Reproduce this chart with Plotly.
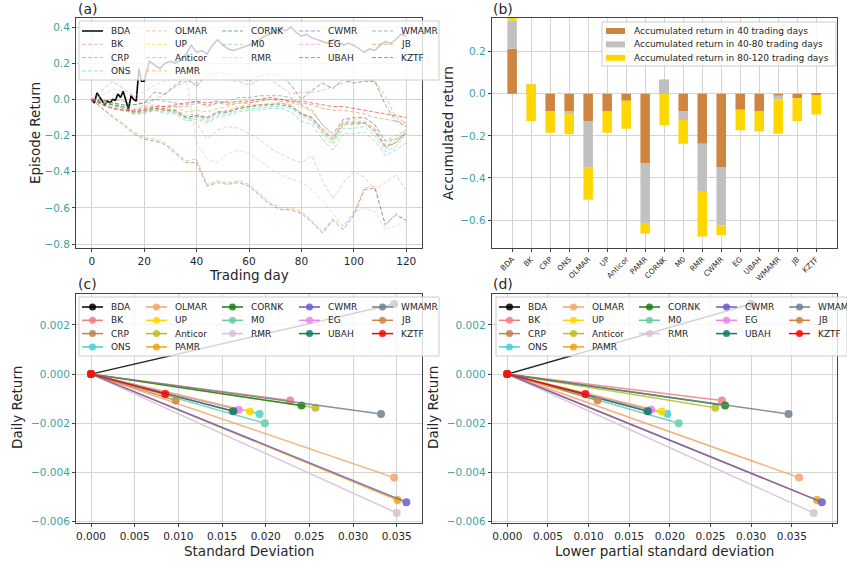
import plotly.graph_objects as go

W, H = 847, 563
FONT = "DejaVu Sans"

# ---------------- data ----------------
NAMES = ["BDA", "BK", "CRP", "ONS", "OLMAR", "UP", "Anticor", "PAMR", "CORNK",
         "M0", "RMR", "CWMR", "EG", "UBAH", "WMAMR", "JB", "KZTF"]
COLORS = ["#000000", "#F08080", "#C0804F", "#48D1CC", "#F4A46A", "#FFD700",
          "#BCBD22", "#F0A30A", "#1A801A", "#66CDAA", "#D8BFD8", "#6A5ACD",
          "#EE82EE", "#0E7C6B", "#708090", "#CD853F", "#FF0000"]

# (a) episode return
BDA_DAYS = list(range(0, 21)) + list(range(22, 121, 2))
RET_BDA = [0, -0.02, 0.035, 0.015, -0.01, -0.03, -0.01, -0.02, 0.0, -0.005, 0.03,
           0.01, 0.045, -0.01, -0.055, 0.02, 0.0, -0.01, 0.17, 0.10, 0.10,
           0.21, 0.19, 0.17, 0.20, 0.21, 0.20, 0.22, 0.25, 0.30, 0.26,
           0.27, 0.25, 0.30, 0.33, 0.30, 0.28, 0.27, 0.28, 0.29, 0.30,
           0.31, 0.33, 0.35, 0.36, 0.38, 0.39, 0.38, 0.40, 0.37, 0.35,
           0.36, 0.34, 0.33, 0.32, 0.31, 0.33, 0.32, 0.30, 0.31, 0.30,
           0.28, 0.26, 0.28, 0.27, 0.30, 0.32, 0.31, 0.33, 0.36, 0.35]
DAYS = list(range(0, 121, 4))
RET_BK = [0.0, 0.05, 0.10, 0.06, 0.02, -0.04, 0.00, 0.03, 0.07, 0.10, 0.09, 0.12, 0.14, 0.11, 0.10, 0.08,
          0.11, 0.11, 0.07, 0.03, 0.04, 0.04, 0.05, 0.07, 0.09, 0.11, 0.11, 0.10, 0.02, -0.10, -0.13]
RET_CRP = [0.0, -0.02, -0.03, -0.05, -0.07, -0.07, -0.05, -0.06, -0.07, -0.10, -0.09, -0.11, -0.08, -0.07, -0.05, -0.04,
           -0.04, -0.03, -0.02, -0.04, -0.08, -0.11, -0.18, -0.23, -0.14, -0.14, -0.13, -0.18, -0.27, -0.24, -0.19]
RET_ONS = [0.0, -0.01, -0.03, -0.05, -0.08, -0.07, -0.06, -0.07, -0.07, -0.11, -0.10, -0.12, -0.09, -0.08, -0.06, -0.05,
           -0.05, -0.04, -0.04, -0.05, -0.09, -0.12, -0.19, -0.25, -0.16, -0.16, -0.15, -0.20, -0.29, -0.26, -0.19]
RET_OLMAR = [0.0, -0.02, -0.05, -0.06, -0.08, -0.07, -0.06, -0.05, -0.08, -0.10, -0.13, -0.22, -0.17, -0.15, -0.16, -0.19,
             -0.22, -0.27, -0.30, -0.33, -0.35, -0.31, -0.45, -0.55, -0.46, -0.40, -0.43, -0.50, -0.46, -0.42, -0.50]
RET_UP = [0.0, -0.02, -0.02, -0.04, -0.07, -0.06, -0.05, -0.06, -0.06, -0.10, -0.09, -0.10, -0.07, -0.07, -0.04, -0.04,
          -0.03, -0.03, -0.02, -0.03, -0.08, -0.10, -0.17, -0.24, -0.14, -0.13, -0.13, -0.18, -0.26, -0.23, -0.18]
RET_ANTICOR = [0.0, -0.01, -0.02, -0.03, -0.05, -0.04, -0.03, -0.04, -0.04, -0.07, -0.06, -0.07, -0.05, -0.04, -0.02, -0.02,
               -0.01, 0.00, 0.00, -0.01, -0.04, -0.07, -0.14, -0.20, -0.11, -0.11, -0.10, -0.14, -0.23, -0.20, -0.17]
RET_PAMR = [0.0, -0.05, -0.09, -0.13, -0.18, -0.21, -0.22, -0.24, -0.29, -0.34, -0.33, -0.47, -0.45, -0.46, -0.45, -0.47,
            -0.52, -0.57, -0.60, -0.60, -0.62, -0.67, -0.73, -0.66, -0.70, -0.63, -0.49, -0.48, -0.70, -0.63, -0.67]
RET_CORNK = [0.0, 0.00, -0.02, -0.03, -0.03, -0.02, 0.04, 0.03, 0.08, 0.12, 0.07, 0.14, 0.15, 0.14, 0.12, 0.10,
             0.13, 0.14, 0.13, 0.08, 0.00, 0.05, 0.09, 0.06, 0.11, 0.09, 0.10, 0.10, -0.03, -0.12, -0.15]
RET_M0 = [0.0, -0.02, -0.04, -0.05, -0.08, -0.08, -0.06, -0.08, -0.08, -0.12, -0.11, -0.13, -0.10, -0.09, -0.07, -0.06,
          -0.06, -0.05, -0.05, -0.07, -0.12, -0.14, -0.22, -0.28, -0.19, -0.19, -0.18, -0.23, -0.31, -0.28, -0.24]
RET_RMR = [0.0, 0.02, 0.06, 0.04, 0.02, 0.04, 0.08, 0.10, 0.12, 0.13, -0.24, -0.33, -0.35, -0.30, -0.28, -0.30,
           -0.34, -0.38, -0.42, -0.44, -0.46, -0.50, -0.56, -0.63, -0.70, -0.62, -0.60, -0.62, -0.72, -0.70, -0.68]
RET_CWMR = [0.0, -0.05, -0.10, -0.14, -0.19, -0.22, -0.23, -0.25, -0.30, -0.35, -0.35, -0.48, -0.46, -0.47, -0.46, -0.48,
            -0.53, -0.58, -0.61, -0.61, -0.63, -0.68, -0.74, -0.67, -0.72, -0.64, -0.50, -0.49, -0.69, -0.64, -0.67]
RET_EG = [0.0, -0.02, -0.03, -0.04, -0.06, -0.06, -0.04, -0.05, -0.06, -0.09, -0.08, -0.10, -0.07, -0.06, -0.04, -0.03,
          -0.03, -0.02, -0.02, -0.03, -0.08, -0.10, -0.16, -0.21, -0.12, -0.12, -0.12, -0.16, -0.25, -0.22, -0.17]
RET_UBAH = [0.0, -0.02, -0.03, -0.04, -0.07, -0.06, -0.05, -0.06, -0.06, -0.10, -0.09, -0.10, -0.07, -0.07, -0.05, -0.04,
            -0.03, -0.03, -0.03, -0.04, -0.08, -0.10, -0.17, -0.22, -0.13, -0.13, -0.13, -0.17, -0.26, -0.24, -0.18]
RET_WMAMR = [0.0, -0.01, 0.00, -0.01, -0.03, -0.02, 0.00, -0.01, -0.02, -0.03, -0.01, -0.04, -0.02, -0.01, 0.01, 0.01,
             0.02, 0.02, 0.02, 0.01, -0.03, -0.06, -0.14, -0.19, -0.11, -0.10, -0.10, -0.14, -0.23, -0.22, -0.19]
RET_JB = [0.0, -0.03, -0.05, -0.06, -0.07, -0.06, -0.05, -0.05, -0.04, -0.04, -0.02, -0.03, -0.02, -0.03, -0.02, -0.02,
          -0.01, 0.00, -0.01, -0.02, -0.02, -0.03, -0.05, -0.06, -0.06, -0.07, -0.08, -0.10, -0.11, -0.12, -0.13]
RET_KZTF = [0.0, -0.03, -0.05, -0.06, -0.06, -0.05, -0.04, -0.04, -0.03, -0.02, -0.01, -0.02, -0.01, -0.02, -0.01, -0.01,
            0.00, 0.01, 0.00, -0.01, -0.01, -0.02, -0.03, -0.04, -0.04, -0.05, -0.06, -0.07, -0.08, -0.09, -0.10]

# (b) accumulated return at day 40 / 80 / 120
R40 = [0.214, 0.02, -0.082, -0.082, -0.130, -0.082, -0.033, -0.331, 0.066,
       -0.084, -0.238, -0.348, -0.076, -0.082, -0.010, -0.021, -0.008]
R80 = [0.348, 0.045, -0.082, -0.092, -0.352, -0.082, -0.033, -0.618, 0.000,
       -0.125, -0.462, -0.626, -0.076, -0.082, -0.027, -0.021, -0.008]
R120 = [0.390, -0.130, -0.185, -0.193, -0.504, -0.185, -0.166, -0.665, -0.150,
        -0.238, -0.678, -0.673, -0.173, -0.179, -0.190, -0.130, -0.098]
BAR_LABELS = ["Accumulated return in 40 trading days",
              "Accumulated return in 40-80 trading days",
              "Accumulated return in 80-120 trading days"]
BAR_COLORS = ["#CD853F", "#C0C0C0", "#FFD700"]

# (c)/(d) risk vs return
STD = [0.0347, 0.0228, 0.0162, 0.0193, 0.0347, 0.0182, 0.0257, 0.0351, 0.0241,
       0.0199, 0.0350, 0.0361, 0.0169, 0.0163, 0.0332, 0.0097, 0.0085]
LPSD = [0.0300, 0.0264, 0.0172, 0.0197, 0.0359, 0.0190, 0.0256, 0.0381, 0.0268,
        0.0211, 0.0377, 0.0387, 0.0177, 0.0173, 0.0346, 0.0111, 0.0096]
DAILY = [0.00285, -0.00107, -0.00150, -0.00162, -0.00421, -0.00152, -0.00137, -0.00512, -0.00128,
         -0.00200, -0.00565, -0.00521, -0.00145, -0.00151, -0.00162, -0.00107, -0.00081]

EPISODE = {"BK": RET_BK, "CRP": RET_CRP, "ONS": RET_ONS, "OLMAR": RET_OLMAR, "UP": RET_UP,
           "Anticor": RET_ANTICOR, "PAMR": RET_PAMR, "CORNK": RET_CORNK, "M0": RET_M0,
           "RMR": RET_RMR, "CWMR": RET_CWMR, "EG": RET_EG, "UBAH": RET_UBAH,
           "WMAMR": RET_WMAMR, "JB": RET_JB, "KZTF": RET_KZTF}


def xp(px):
    return px / W


def yp(py):
    return 1 - py / H


fig = go.Figure()

# ---------------- (a) ----------------
fig.add_trace(go.Scatter(x=BDA_DAYS, y=RET_BDA, mode="lines", name="BDA",
                         line=dict(color=COLORS[0], width=1.6), xaxis="x", yaxis="y"))
for name, color in zip(NAMES[1:], COLORS[1:]):
    fig.add_trace(go.Scatter(x=DAYS, y=EPISODE[name], mode="lines", name=name,
                             line=dict(color=color, width=1, dash="4px,2px"),
                             opacity=0.55, xaxis="x", yaxis="y"))

# ---------------- (b) ----------------
bases = [[0.0] * len(NAMES), R40, R80]
tops = [R40, R80, R120]
for lab, col, b, t in zip(BAR_LABELS, BAR_COLORS, bases, tops):
    fig.add_trace(go.Bar(x=NAMES, y=[ti - bi for ti, bi in zip(t, b)], base=b, name=lab,
                         marker=dict(color=col, line=dict(width=0)), width=0.5,
                         xaxis="x2", yaxis="y2"))

# ---------------- (c) & (d) ----------------
for xs, xa, ya in ((STD, "x3", "y3"), (LPSD, "x4", "y4")):
    for i, name in enumerate(NAMES):
        fig.add_trace(go.Scatter(x=[0.0, xs[i]], y=[0.0, DAILY[i]], mode="lines+markers", name=name,
                                 line=dict(color=COLORS[i], width=1.5),
                                 marker=dict(color=COLORS[i], size=8),
                                 opacity=0.85, xaxis=xa, yaxis=ya))


def axstyle(**kw):
    d = dict(showline=True, mirror=True, linecolor="#444444", linewidth=1,
             ticks="outside", ticklen=3, tickcolor="#444444",
             showgrid=True, gridcolor="#d4d4d4", gridwidth=1, zeroline=False,
             automargin=False, tickfont=dict(family=FONT, size=10.5, color="#262626"))
    d.update(kw)
    return d


YT = dict(family=FONT, size=10.5, color="#3F9F9F")
TOP = [yp(248), yp(18)]
BOT = [yp(523.3), yp(294)]

fig.update_layout(
    width=W, height=H, margin=dict(l=0, r=0, t=0, b=0),
    paper_bgcolor="white", plot_bgcolor="white", showlegend=False,
    barmode="overlay", font=dict(family=FONT),
    xaxis=axstyle(domain=[xp(76), xp(422)], anchor="y", range=[-6, 126], dtick=20, tick0=0),
    yaxis=axstyle(domain=TOP, anchor="x", range=[-0.822, 0.45], dtick=0.2, tick0=0,
                  tickformat=".1f", tickfont=YT),
    xaxis2=axstyle(domain=[xp(491.7), xp(836.7)], anchor="y2", range=[-1.075, 17.075],
                   tickangle=-45, tickfont=dict(family=FONT, size=7.5, color="#262626")),
    yaxis2=axstyle(domain=TOP, anchor="x2", range=[-0.733, 0.36], dtick=0.2, tick0=0,
                   tickformat=".1f", tickfont=YT),
    xaxis3=axstyle(domain=[xp(76), xp(421.7)], anchor="y3", range=[-0.00172, 0.03786],
                   dtick=0.005, tick0=0, tickformat=".3f"),
    yaxis3=axstyle(domain=BOT, anchor="x3", range=[-0.00607, 0.00326], dtick=0.002, tick0=0,
                   tickformat=".3f", tickfont=YT),
    xaxis4=axstyle(domain=[xp(491.7), xp(837.3)], anchor="y4", range=[-0.00192, 0.0406],
                   dtick=0.005, tick0=0, tickformat=".3f"),
    yaxis4=axstyle(domain=BOT, anchor="x4", range=[-0.00607, 0.00326], dtick=0.002, tick0=0,
                   tickformat=".3f", tickfont=YT),
)

annotations = []
shapes = []


def text(s, px, py, size=13.5, angle=0, xanchor="center", color="#262626"):
    annotations.append(dict(text=s, x=xp(px), y=yp(py), xref="paper", yref="paper",
                            showarrow=False, xanchor=xanchor, yanchor="middle",
                            textangle=angle, font=dict(family=FONT, size=size, color=color)))


# panel labels and axis titles
text("(a)", 76, 9, size=14, xanchor="left")
text("(b)", 491, 9, size=14, xanchor="left")
text("(c)", 76, 284, size=14, xanchor="left")
text("(d)", 491, 284, size=14, xanchor="left")
text("Episode Return", 35, 133, angle=-90)
text("Trading day", 249, 275)
text("Accumulated return", 448, 133, angle=-90)
text("Daily Return", 17, 408, angle=-90)
text("Standard Deviation", 249, 551)
text("Daily Return", 433, 408, angle=-90)
text("Lower partial standard deviation", 664, 551)

# manual legends (5 columns, column-major like the original)
COL_SIZES = [4, 4, 3, 3, 3]
COL_TEXT = [30, 94, 170, 247, 320]
LEG_W, LEG_H = 360, 59


def legend(left, top, with_markers, dashed, width=LEG_W):
    shapes.append(dict(type="rect", xref="paper", yref="paper", layer="above",
                       x0=xp(left), x1=xp(left + width), y0=yp(top + LEG_H), y1=yp(top),
                       fillcolor="rgba(255,255,255,0.8)", line=dict(color="#cccccc", width=1)))
    k = 0
    for c, n in enumerate(COL_SIZES):
        for r in range(n):
            name, color = NAMES[k], COLORS[k]
            tx = left + COL_TEXT[c]
            ty = top + 10 + 13.3 * r
            dash = "solid" if (not dashed or k == 0) else "4px,2px"
            shapes.append(dict(type="line", xref="paper", yref="paper", layer="above",
                               x0=xp(tx - 27), x1=xp(tx - 6), y0=yp(ty), y1=yp(ty),
                               opacity=1 if (k == 0 or not dashed) else 0.6,
                               line=dict(color=color, width=1.5 if k == 0 or with_markers else 1, dash=dash)))
            if with_markers:
                cx = tx - 16.5
                shapes.append(dict(type="circle", xref="paper", yref="paper", layer="above",
                                   x0=xp(cx - 3.5), x1=xp(cx + 3.5), y0=yp(ty + 3.5), y1=yp(ty - 3.5),
                                   fillcolor=color, opacity=0.85, line=dict(width=0)))
            text(name, tx, ty, size=9, xanchor="left")
            k += 1


legend(79, 21, False, True)
legend(79, 297, True, False)
legend(496, 297, True, False, width=W - 496)

# legend of (b)
shapes.append(dict(type="rect", xref="paper", yref="paper", layer="above",
                   x0=xp(602), x1=xp(836), y0=yp(66), y1=yp(22),
                   fillcolor="rgba(255,255,255,0.8)", line=dict(color="#cccccc", width=1)))
for r, (lab, col) in enumerate(zip(BAR_LABELS, BAR_COLORS)):
    ty = 31 + 13.4 * r
    shapes.append(dict(type="rect", xref="paper", yref="paper", layer="above",
                       x0=xp(606), x1=xp(625), y0=yp(ty + 3), y1=yp(ty - 3),
                       fillcolor=col, line=dict(width=0)))
    text(lab, 632, ty, size=9, xanchor="left")

fig.update_layout(annotations=annotations, shapes=shapes)
fig.write_html("out.html")
